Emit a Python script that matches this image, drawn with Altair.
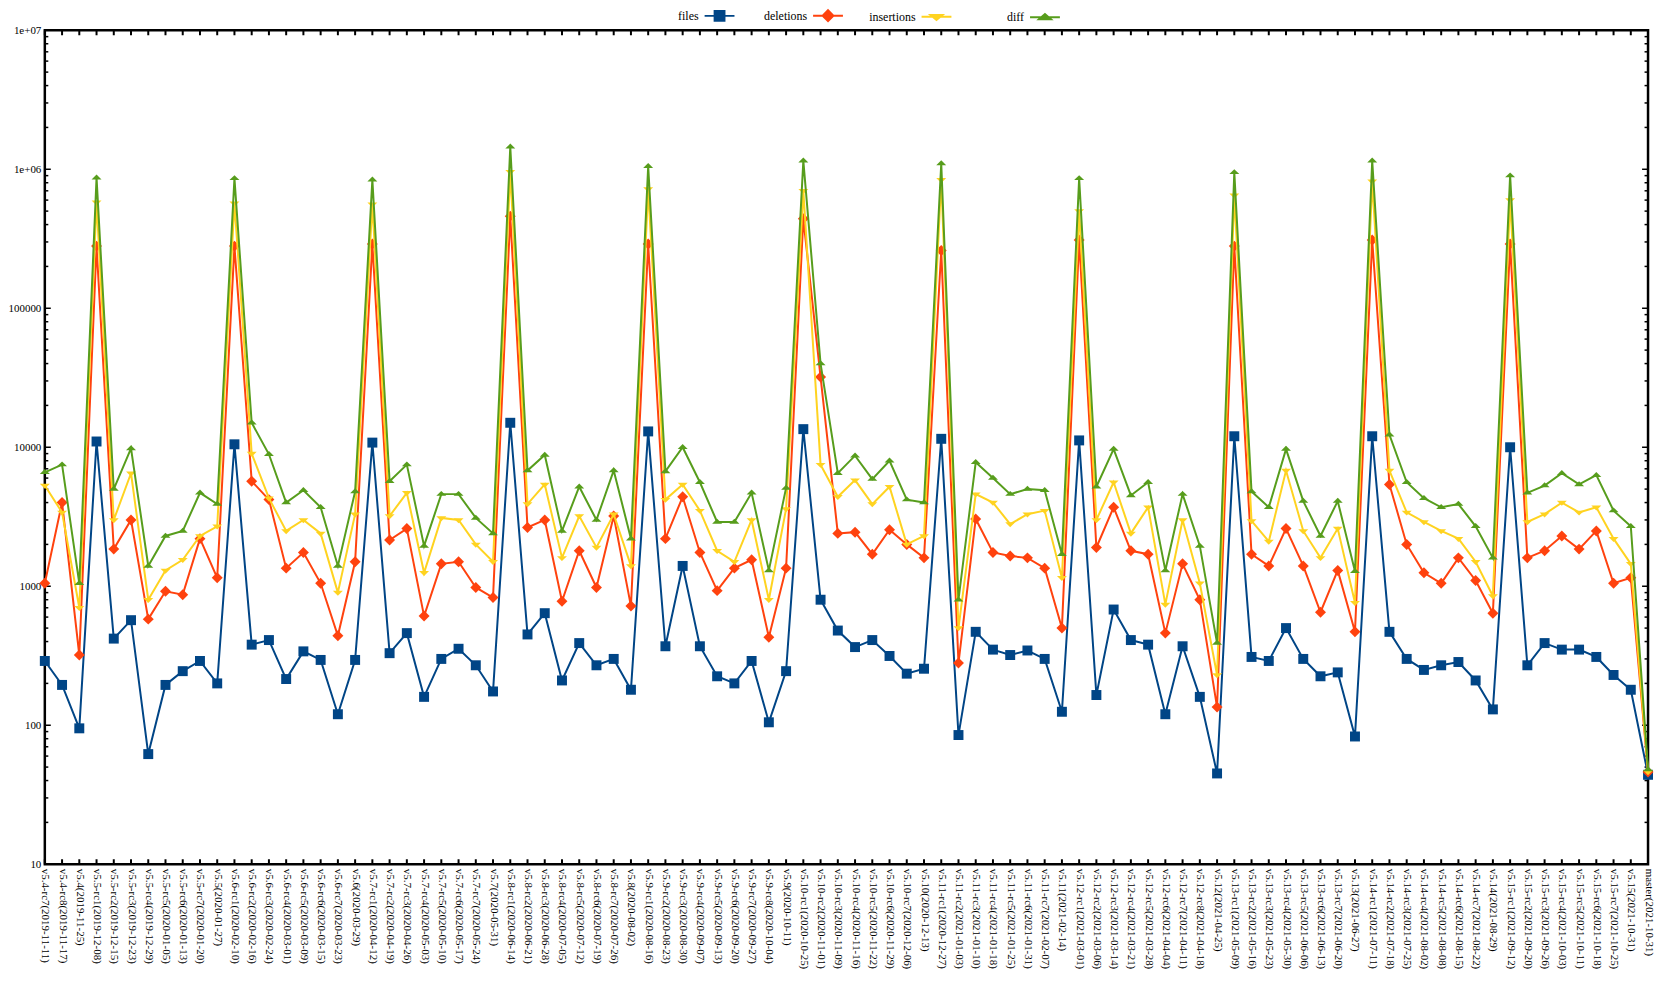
import altair as alt
import pandas as pd

categories = [
    "v5.4-rc7(2019-11-11)", "v5.4-rc8(2019-11-17)", "v5.4(2019-11-25)",
    "v5.5-rc1(2019-12-08)", "v5.5-rc2(2019-12-15)", "v5.5-rc3(2019-12-23)", "v5.5-rc4(2019-12-29)",
    "v5.5-rc5(2020-01-05)", "v5.5-rc6(2020-01-13)", "v5.5-rc7(2020-01-20)", "v5.5(2020-01-27)",
    "v5.6-rc1(2020-02-10)", "v5.6-rc2(2020-02-16)", "v5.6-rc3(2020-02-24)", "v5.6-rc4(2020-03-01)",
    "v5.6-rc5(2020-03-09)", "v5.6-rc6(2020-03-15)", "v5.6-rc7(2020-03-23)", "v5.6(2020-03-29)",
    "v5.7-rc1(2020-04-12)", "v5.7-rc2(2020-04-19)", "v5.7-rc3(2020-04-26)", "v5.7-rc4(2020-05-03)",
    "v5.7-rc5(2020-05-10)", "v5.7-rc6(2020-05-17)", "v5.7-rc7(2020-05-24)", "v5.7(2020-05-31)",
    "v5.8-rc1(2020-06-14)", "v5.8-rc2(2020-06-21)", "v5.8-rc3(2020-06-28)", "v5.8-rc4(2020-07-05)",
    "v5.8-rc5(2020-07-12)", "v5.8-rc6(2020-07-19)", "v5.8-rc7(2020-07-26)", "v5.8(2020-08-02)",
    "v5.9-rc1(2020-08-16)", "v5.9-rc2(2020-08-23)", "v5.9-rc3(2020-08-30)", "v5.9-rc4(2020-09-07)",
    "v5.9-rc5(2020-09-13)", "v5.9-rc6(2020-09-20)", "v5.9-rc7(2020-09-27)", "v5.9-rc8(2020-10-04)",
    "v5.9(2020-10-11)",
    "v5.10-rc1(2020-10-25)", "v5.10-rc2(2020-11-01)", "v5.10-rc3(2020-11-09)", "v5.10-rc4(2020-11-16)",
    "v5.10-rc5(2020-11-22)", "v5.10-rc6(2020-11-29)", "v5.10-rc7(2020-12-06)", "v5.10(2020-12-13)",
    "v5.11-rc1(2020-12-27)", "v5.11-rc2(2021-01-03)", "v5.11-rc3(2021-01-10)", "v5.11-rc4(2021-01-18)",
    "v5.11-rc5(2021-01-25)", "v5.11-rc6(2021-01-31)", "v5.11-rc7(2021-02-07)", "v5.11(2021-02-14)",
    "v5.12-rc1(2021-03-01)", "v5.12-rc2(2021-03-06)", "v5.12-rc3(2021-03-14)", "v5.12-rc4(2021-03-21)",
    "v5.12-rc5(2021-03-28)", "v5.12-rc6(2021-04-04)", "v5.12-rc7(2021-04-11)", "v5.12-rc8(2021-04-18)",
    "v5.12(2021-04-25)",
    "v5.13-rc1(2021-05-09)", "v5.13-rc2(2021-05-16)", "v5.13-rc3(2021-05-23)", "v5.13-rc4(2021-05-30)",
    "v5.13-rc5(2021-06-06)", "v5.13-rc6(2021-06-13)", "v5.13-rc7(2021-06-20)", "v5.13(2021-06-27)",
    "v5.14-rc1(2021-07-11)", "v5.14-rc2(2021-07-18)", "v5.14-rc3(2021-07-25)", "v5.14-rc4(2021-08-02)",
    "v5.14-rc5(2021-08-08)", "v5.14-rc6(2021-08-15)", "v5.14-rc7(2021-08-22)", "v5.14(2021-08-29)",
    "v5.15-rc1(2021-09-12)", "v5.15-rc2(2021-09-20)", "v5.15-rc3(2021-09-26)", "v5.15-rc4(2021-10-03)",
    "v5.15-rc5(2021-10-11)", "v5.15-rc6(2021-10-18)", "v5.15-rc7(2021-10-25)", "v5.15(2021-10-31)",
    "master(2021-10-31)",
]

files = [
    290, 195, 95, 11000, 420, 570, 62, 195, 245, 290,
    200, 10500, 380, 410, 215, 340, 295, 120, 295, 10800,
    330, 460, 160, 300, 355, 270, 175, 15000, 450, 640,
    210, 390, 270, 300, 180, 13000, 370, 1400, 370, 225,
    200, 290, 105, 245, 13500, 800, 480, 365, 410, 315,
    235, 255, 11500, 85, 470, 350, 320, 345, 300, 125,
    11200, 165, 680, 410, 380, 120, 370, 160, 45, 12000,
    310, 290, 500, 300, 225, 240, 83, 12000, 470, 300,
    250, 270, 285, 210, 130, 10000, 270, 390, 350, 350,
    310, 230, 180, 44,
]

deletions = [
    1050, 4000, 320, 280000, 1850, 3000, 580, 920, 870, 2200,
    1150, 280000, 5700, 4200, 1350, 1750, 1050, 440, 1500, 290000,
    2150, 2600, 610, 1450, 1500, 980, 830, 460000, 2650, 3000,
    780, 1800, 980, 3200, 720, 290000, 2200, 4400, 1750, 930,
    1350, 1550, 430, 1350, 440000, 32000, 2400, 2450, 1700, 2550,
    2000, 1600, 260000, 280, 3050, 1750, 1650, 1600, 1350, 500,
    310000, 1900, 3700, 1800, 1700, 460, 1450, 800, 135, 280000,
    1700, 1400, 2600, 1400, 650, 1300, 470, 310000, 5400, 2000,
    1250, 1050, 1600, 1100, 640, 290000, 1600, 1800, 2300, 1850,
    2500, 1050, 1150, 46,
]

insertions = [
    5300, 3400, 700, 580000, 3000, 6500, 800, 1300, 1550, 2300,
    2700, 570000, 9000, 4300, 2500, 3000, 2400, 900, 3300, 560000,
    3200, 4700, 1250, 3100, 3000, 2000, 1500, 960000, 3900, 5400,
    1600, 3200, 1900, 3300, 1400, 720000, 4200, 5400, 3500, 1800,
    1500, 3000, 800, 3600, 700000, 7500, 4400, 5800, 3900, 5200,
    2000, 2300, 840000, 500, 4600, 4000, 2800, 3300, 3500, 1150,
    500000, 3000, 5600, 2400, 3700, 740, 3000, 1050, 230, 650000,
    2950, 2100, 6800, 2500, 1600, 2600, 760, 820000, 6800, 3400,
    2900, 2500, 2200, 1500, 850, 600000, 2900, 3300, 4000, 3400,
    3700, 2200, 1450, 46,
]

diff = [
    6600, 7500, 1050, 870000, 5000, 9800, 1400, 2300, 2500, 4700,
    3900, 860000, 15000, 8900, 4000, 4900, 3700, 1400, 4800, 840000,
    5700, 7500, 1950, 4600, 4600, 3100, 2400, 1450000, 6800, 8800,
    2500, 5200, 3000, 6800, 2200, 1050000, 6700, 10000, 5600, 2900,
    2900, 4700, 1300, 5100, 1150000, 40000, 6500, 8700, 5900, 8000,
    4200, 4000, 1100000, 800, 7800, 6000, 4600, 5000, 4900, 1700,
    860000, 5200, 9700, 4500, 5600, 1300, 4600, 1950, 390, 950000,
    4800, 3700, 9700, 4100, 2300, 4100, 1280, 1150000, 12300, 5600,
    4300, 3700, 3900, 2700, 1600, 900000, 4700, 5300, 6500, 5400,
    6300, 3500, 2700, 48,
]

series_names = ["files", "deletions", "insertions", "diff"]
series_values = [files, deletions, insertions, diff]
series_colors = ["#004586", "#ff420e", "#ffd320", "#579d1c"]
marker_paths = [
    "M-1,-1H1V1H-1Z",
    "M0,-1.1L1.1,0L0,1.1L-1.1,0Z",
    "M-1,-0.35H1L0,0.65Z",
    "M-1,0.35H1L0,-0.65Z",
]
legend_paths = [
    "M-1,0H1M-0.33,-0.33H0.33V0.33H-0.33Z",
    "M-1,0H1M0,-0.36L0.36,0L0,0.36L-0.36,0Z",
    "M-1,0H1M-0.4,-0.12H0.4L0,0.22Z",
    "M-1,0H1M-0.4,0.12H0.4L0,-0.22Z",
]

ytick_values = [10, 100, 1000, 10000, 100000, 1000000, 10000000]
ytick_labels = ["10", "100", "1000", "10000", "100000", "1e+06", "1e+07"]
minor_ticks = [m * 10 ** e for e in range(1, 7) for m in range(2, 10)]

W, H = 1611, 838
FONT = "Liberation Serif"

label_expr = "''"
for v, s in zip(ytick_values, ytick_labels):
    label_expr = f"datum.value == {v} ? '{s}' : ({label_expr})"

x_scale = alt.Scale(type="point", domain=categories, padding=0)
y_scale = alt.Scale(type="log", domain=[10, 1e7], nice=False)

x_axis = alt.Axis(title=None, labelAngle=90, labelAlign="left", labelBaseline="middle",
                  labelFont=FONT, labelFontSize=11, labelColor="black", labelPadding=4,
                  ticks=False, domain=False, grid=False, labelOverlap=False, labelLimit=0)
y_axis = alt.Axis(title=None, values=ytick_values, labelExpr=label_expr, labelFont=FONT,
                  labelFontSize=11, labelColor="black", labelPadding=4, ticks=False,
                  domain=False, grid=False, labelOverlap=False)

X = alt.X("cat:N", scale=x_scale, axis=x_axis, sort=None)
Y = alt.Y("value:Q", scale=y_scale, axis=y_axis)

rows = []
for name, vals in zip(series_names, series_values):
    for i, (c, v) in enumerate(zip(categories, vals)):
        rows.append({"series": name, "cat": c, "idx": i, "value": v})
df = pd.DataFrame(rows)

layers = []

# inward tick marks
xt = pd.DataFrame({"cat": categories})
layers.append(alt.Chart(xt).mark_rule(color="black", strokeWidth=2).encode(
    x=X, y=alt.value(H), y2=alt.value(H - 5)))
layers.append(alt.Chart(xt).mark_rule(color="black", strokeWidth=2).encode(
    x=X, y=alt.value(0), y2=alt.value(5)))
ymaj = pd.DataFrame({"value": ytick_values})
ymin = pd.DataFrame({"value": minor_ticks})
for d, ln in ((ymaj, 6), (ymin, 3.5)):
    layers.append(alt.Chart(d).mark_rule(color="black", strokeWidth=1.5).encode(
        y=Y, x=alt.value(0), x2=alt.value(ln)))
    layers.append(alt.Chart(d).mark_rule(color="black", strokeWidth=1.5).encode(
        y=Y, x=alt.value(W - ln), x2=alt.value(W)))

for name, color, path in zip(series_names, series_colors, marker_paths):
    sub = df[df.series == name]
    base = alt.Chart(sub)
    layers.append(base.mark_line(color=color, strokeWidth=2).encode(
        x=X, y=Y, order=alt.Order("idx:Q")))
    layers.append(base.mark_point(shape=path, filled=True, color=color, size=100,
                                  opacity=1, strokeWidth=0).encode(x=X, y=Y))

# legend (empty dummy layer carrying the legend scales)
leg = alt.Legend(title=None, orient="none", legendX=662, legendY=-31, direction="horizontal",
                 columns=4, labelFont=FONT, labelFontSize=12, labelColor="black",
                 symbolSize=900, symbolStrokeWidth=2, labelAlign="right",
                 labelOffset={"expr": "-37"},
                 columnPadding=22, gridAlign="all", padding=0, symbolOpacity=1)
leg_df = pd.DataFrame({"series": series_names})
layers.append(alt.Chart(leg_df).transform_filter("false").mark_point(filled=True, strokeWidth=2).encode(
    x=alt.value(0), y=alt.value(0),
    fill=alt.Fill("series:N", scale=alt.Scale(domain=series_names, range=series_colors), legend=leg),
    stroke=alt.Stroke("series:N", scale=alt.Scale(domain=series_names, range=series_colors), legend=leg),
    shape=alt.Shape("series:N", scale=alt.Scale(domain=series_names, range=legend_paths), legend=leg),
))

chart = alt.layer(*layers).properties(
    width=W, height=H,
    padding={"left": 37, "top": 20, "right": 7, "bottom": 125},
    autosize=alt.AutoSizeParams(type="none"),
    background="white",
).configure_view(stroke="black", strokeWidth=2.5)

chart.save("out.html", embed_options={"renderer": "svg", "actions": False})
